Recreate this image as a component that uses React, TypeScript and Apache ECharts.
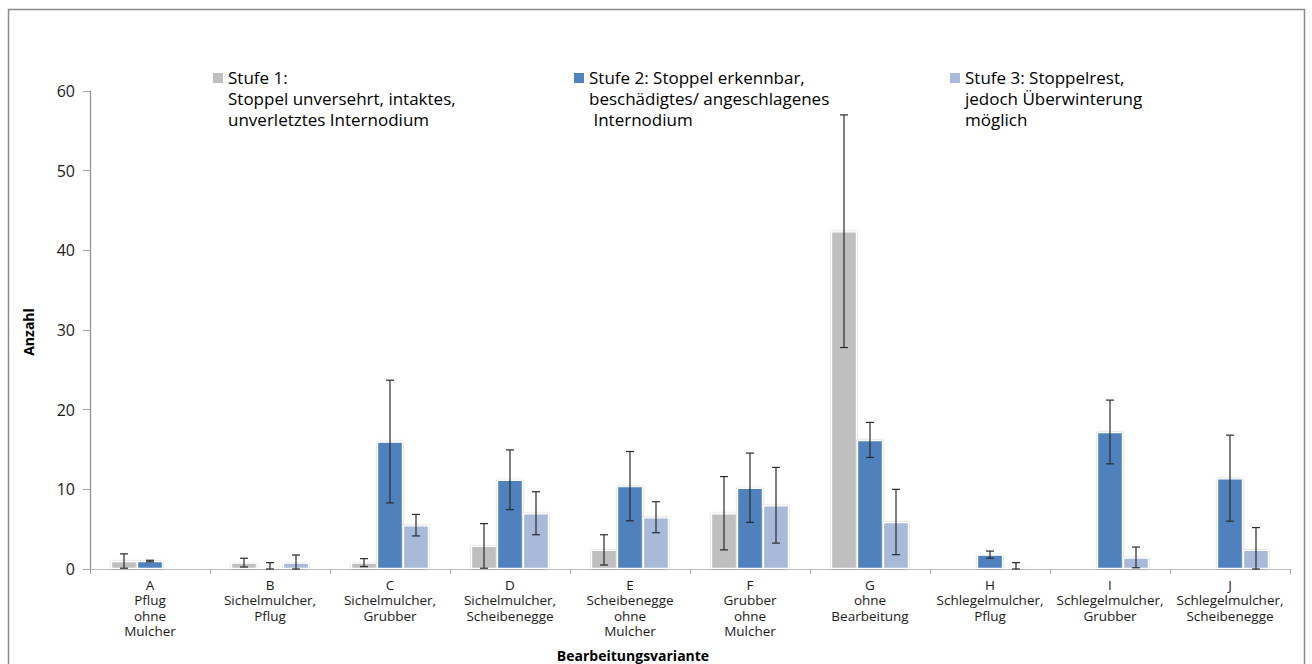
import React, { useEffect, useRef } from "react";
import * as echarts from "echarts";

// Kategorien (Bearbeitungsvarianten)
const categories = [
  "A\nPflug\nohne\nMulcher",
  "B\nSichelmulcher,\nPflug",
  "C\nSichelmulcher,\nGrubber",
  "D\nSichelmulcher,\nScheibenegge",
  "E\nScheibenegge\nohne\nMulcher",
  "F\nGrubber\nohne\nMulcher",
  "G\nohne\nBearbeitung",
  "H\nSchlegelmulcher,\nPflug",
  "I\nSchlegelmulcher,\nGrubber",
  "J\nSchlegelmulcher,\nScheibenegge",
];

const seriesNames = ["Stufe 1", "Stufe 2", "Stufe 3"];
const legendLabels = [
  "Stufe 1:\nStoppel unversehrt, intaktes,\nunverletztes Internodium",
  "Stufe 2: Stoppel erkennbar,\nbeschädigtes/ angeschlagenes\n Internodium",
  "Stufe 3: Stoppelrest,\njedoch Überwinterung\nmöglich",
];

// Mittelwerte
const stufe1 = [1.0, 0.8, 0.8, 2.9, 2.4, 7.0, 42.4, 0, 0, 0];
const stufe2 = [1.0, 0.3, 16.0, 11.2, 10.4, 10.2, 16.2, 1.8, 17.2, 11.4];
const stufe3 = [0, 0.8, 5.5, 7.0, 6.5, 8.0, 5.9, 0.2, 1.45, 2.4];

// Fehlerbalken (±)
const err1 = [0.9, 0.55, 0.5, 2.8, 1.9, 4.6, 14.6, 0, 0, 0];
const err2 = [0.1, 0.5, 7.7, 3.75, 4.35, 4.35, 2.2, 0.45, 4.0, 5.4];
const err3 = [0, 0.95, 1.35, 2.7, 1.95, 4.75, 4.1, 0.6, 1.3, 2.8];

const colors = ["#BFBFBF", "#4F81BD", "#A9B9D9"];

const FONT = "'Open Sans', 'Noto Sans', sans-serif";
const CAT_GAP = 0.35;

export default function App() {
  const ref = useRef<HTMLDivElement>(null);

  useEffect(() => {
    const chart = echarts.init(ref.current!, null, { renderer: "svg" });
    const values = [stufe1, stufe2, stufe3];
    const errs = [err1, err2, err3];

    const barSeries = values.map((v, s) => ({
      name: seriesNames[s],
      type: "bar",
      data: v,
      barGap: "0%",
      barCategoryGap: `${CAT_GAP * 100}%`,
      itemStyle: {
        color: colors[s],
        borderColor: "#ffffff",
        borderWidth: 1.2,
        shadowColor: "rgba(0,0,0,0.25)",
        shadowBlur: 2,
      },
      z: 2,
    }));

    const errSeries = values.map((v, s) => ({
      name: seriesNames[s] + " Fehler",
      type: "custom",
      data: v.map((val, i) => [i, Math.max(0, val - errs[s][i]), val + errs[s][i], errs[s][i]]),
      encode: { x: 0, y: [1, 2] },
      z: 5,
      renderItem: (_params: any, api: any) => {
        const i = api.value(0);
        const lo = api.value(1);
        const hi = api.value(2);
        const e = api.value(3);
        if (!e) return null;
        const catW = api.size([1, 0])[0];
        const barW = (catW * (1 - CAT_GAP)) / 3;
        const top = api.coord([i, hi]);
        const bot = api.coord([i, lo]);
        const x = top[0] + (s - 1) * barW;
        const cap = 4;
        const style = { stroke: "#2b2b2b", lineWidth: 1.2 };
        return {
          type: "group",
          children: [
            { type: "line", shape: { x1: x, y1: top[1], x2: x, y2: bot[1] }, style },
            { type: "line", shape: { x1: x - cap, y1: top[1], x2: x + cap, y2: top[1] }, style },
            { type: "line", shape: { x1: x - cap, y1: bot[1], x2: x + cap, y2: bot[1] }, style },
          ],
        };
      },
    }));

    const legendX = [213, 574, 950];
    const legendGraphics: any[] = [];
    legendLabels.forEach((label, s) => {
      legendGraphics.push({
        type: "rect",
        shape: { x: legendX[s], y: 73, width: 10, height: 10 },
        style: { fill: colors[s] },
      });
      legendGraphics.push({
        type: "text",
        x: legendX[s] + 15,
        y: 67,
        style: {
          text: label,
          fill: "#000",
          font: `17px ${FONT}`,
          lineHeight: 21,
          verticalAlign: "top",
        },
      });
    });

    chart.setOption({
      animation: false,
      backgroundColor: "#ffffff",
      grid: { left: 90, right: 22, top: 91, bottom: 95, containLabel: false },
      xAxis: {
        type: "category",
        data: categories,
        axisLine: { lineStyle: { color: "#bfbfbf", width: 1.2 } },
        axisTick: { show: true, length: 5, lineStyle: { color: "#a6a6a6" } },
        axisLabel: {
          interval: 0,
          fontFamily: FONT,
          fontSize: 13.5,
          lineHeight: 15.5,
          color: "#1a1a1a",
          margin: 8,
        },
      },
      yAxis: {
        type: "value",
        min: 0,
        max: 60,
        interval: 10,
        splitLine: { show: false },
        axisLine: { show: true, lineStyle: { color: "#8c8c8c", width: 1.2 } },
        axisTick: { show: true, length: 7, lineStyle: { color: "#a6a6a6" } },
        axisLabel: { fontFamily: FONT, fontSize: 16, color: "#1a1a1a", margin: 15 },
      },
      series: [...barSeries, ...errSeries],
      graphic: [
        {
          type: "rect",
          shape: { x: 8.5, y: 9.5, width: 1296, height: 700 },
          style: { fill: "none", stroke: "#8c8c8c", lineWidth: 1.5 },
          silent: true,
        },
        ...legendGraphics,
        {
          type: "text",
          x: 28,
          y: 332,
          rotation: Math.PI / 2,
          style: {
            text: "Anzahl",
            fill: "#000",
            font: `bold 14px ${FONT}`,
            align: "center",
            verticalAlign: "middle",
          },
        },
        {
          type: "text",
          x: 633,
          y: 655,
          style: {
            text: "Bearbeitungsvariante",
            fill: "#000",
            font: `bold 14px ${FONT}`,
            align: "center",
            verticalAlign: "middle",
          },
        },
      ],
    });

    return () => chart.dispose();
  }, []);

  return (
    <div
      ref={ref}
      style={{ position: "fixed", left: 0, top: 0, width: 1312, height: 664, background: "#fff" }}
    />
  );
}
